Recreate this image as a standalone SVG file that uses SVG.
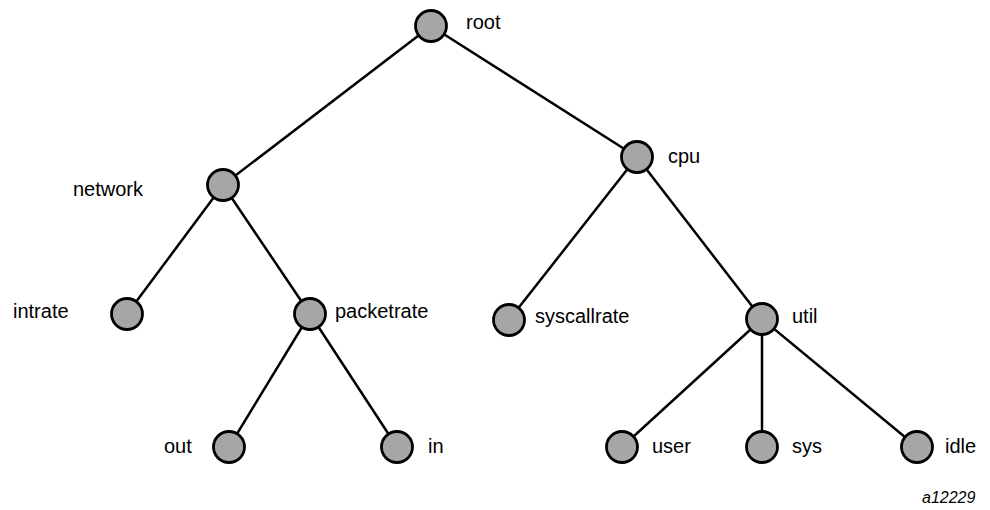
<svg xmlns="http://www.w3.org/2000/svg" width="990" height="510" viewBox="0 0 990 510">
<style>
.e{stroke:#000;stroke-width:2.5;fill:none}
.n{fill:#a6a6a6;stroke:#000;stroke-width:2.8}
.t{font-family:"Liberation Sans",Arial,sans-serif;font-size:20px;fill:#000}
.c{font-family:"Liberation Sans",Arial,sans-serif;font-size:16px;font-style:italic;fill:#000}
</style>
<rect width="990" height="510" fill="#fff"/>
<g id="connectors">
<line class="e" x1="431" y1="26" x2="223" y2="185"/>
<line class="e" x1="431" y1="26" x2="637" y2="157"/>
<line class="e" x1="223" y1="185" x2="127" y2="314"/>
<line class="e" x1="223" y1="185" x2="310" y2="314"/>
<line class="e" x1="310" y1="314" x2="229" y2="447"/>
<line class="e" x1="310" y1="314" x2="397" y2="447"/>
<line class="e" x1="637" y1="157" x2="509" y2="320"/>
<line class="e" x1="637" y1="157" x2="762" y2="319"/>
<line class="e" x1="762" y1="319" x2="622" y2="447"/>
<line class="e" x1="762" y1="319" x2="762" y2="447"/>
<line class="e" x1="762" y1="319" x2="917" y2="447"/>
</g>
<g id="root"><circle class="n" cx="431" cy="26" r="15.5"/><text class="t" x="466" y="29">root</text></g>
<g id="network"><circle class="n" cx="223" cy="185" r="15.5"/><text class="t" x="73" y="196">network</text></g>
<g id="cpu"><circle class="n" cx="637" cy="157" r="15.5"/><text class="t" x="668" y="163">cpu</text></g>
<g id="intrate"><circle class="n" cx="127" cy="314" r="15.5"/><text class="t" x="13" y="318">intrate</text></g>
<g id="packetrate"><circle class="n" cx="310" cy="314" r="15.5"/><text class="t" x="335" y="318">packetrate</text></g>
<g id="syscallrate"><circle class="n" cx="509" cy="320" r="15.5"/><text class="t" x="535" y="323">syscallrate</text></g>
<g id="util"><circle class="n" cx="762" cy="319" r="15.5"/><text class="t" x="792" y="323">util</text></g>
<g id="out"><circle class="n" cx="229" cy="447" r="15.5"/><text class="t" x="164" y="453">out</text></g>
<g id="in"><circle class="n" cx="397" cy="447" r="15.5"/><text class="t" x="428" y="453">in</text></g>
<g id="user"><circle class="n" cx="622" cy="447" r="15.5"/><text class="t" x="652" y="453">user</text></g>
<g id="sys"><circle class="n" cx="762" cy="447" r="15.5"/><text class="t" x="792" y="453">sys</text></g>
<g id="idle"><circle class="n" cx="917" cy="447" r="15.5"/><text class="t" x="945" y="453">idle</text></g>
<text class="c" x="922" y="503">a12229</text>
</svg>
